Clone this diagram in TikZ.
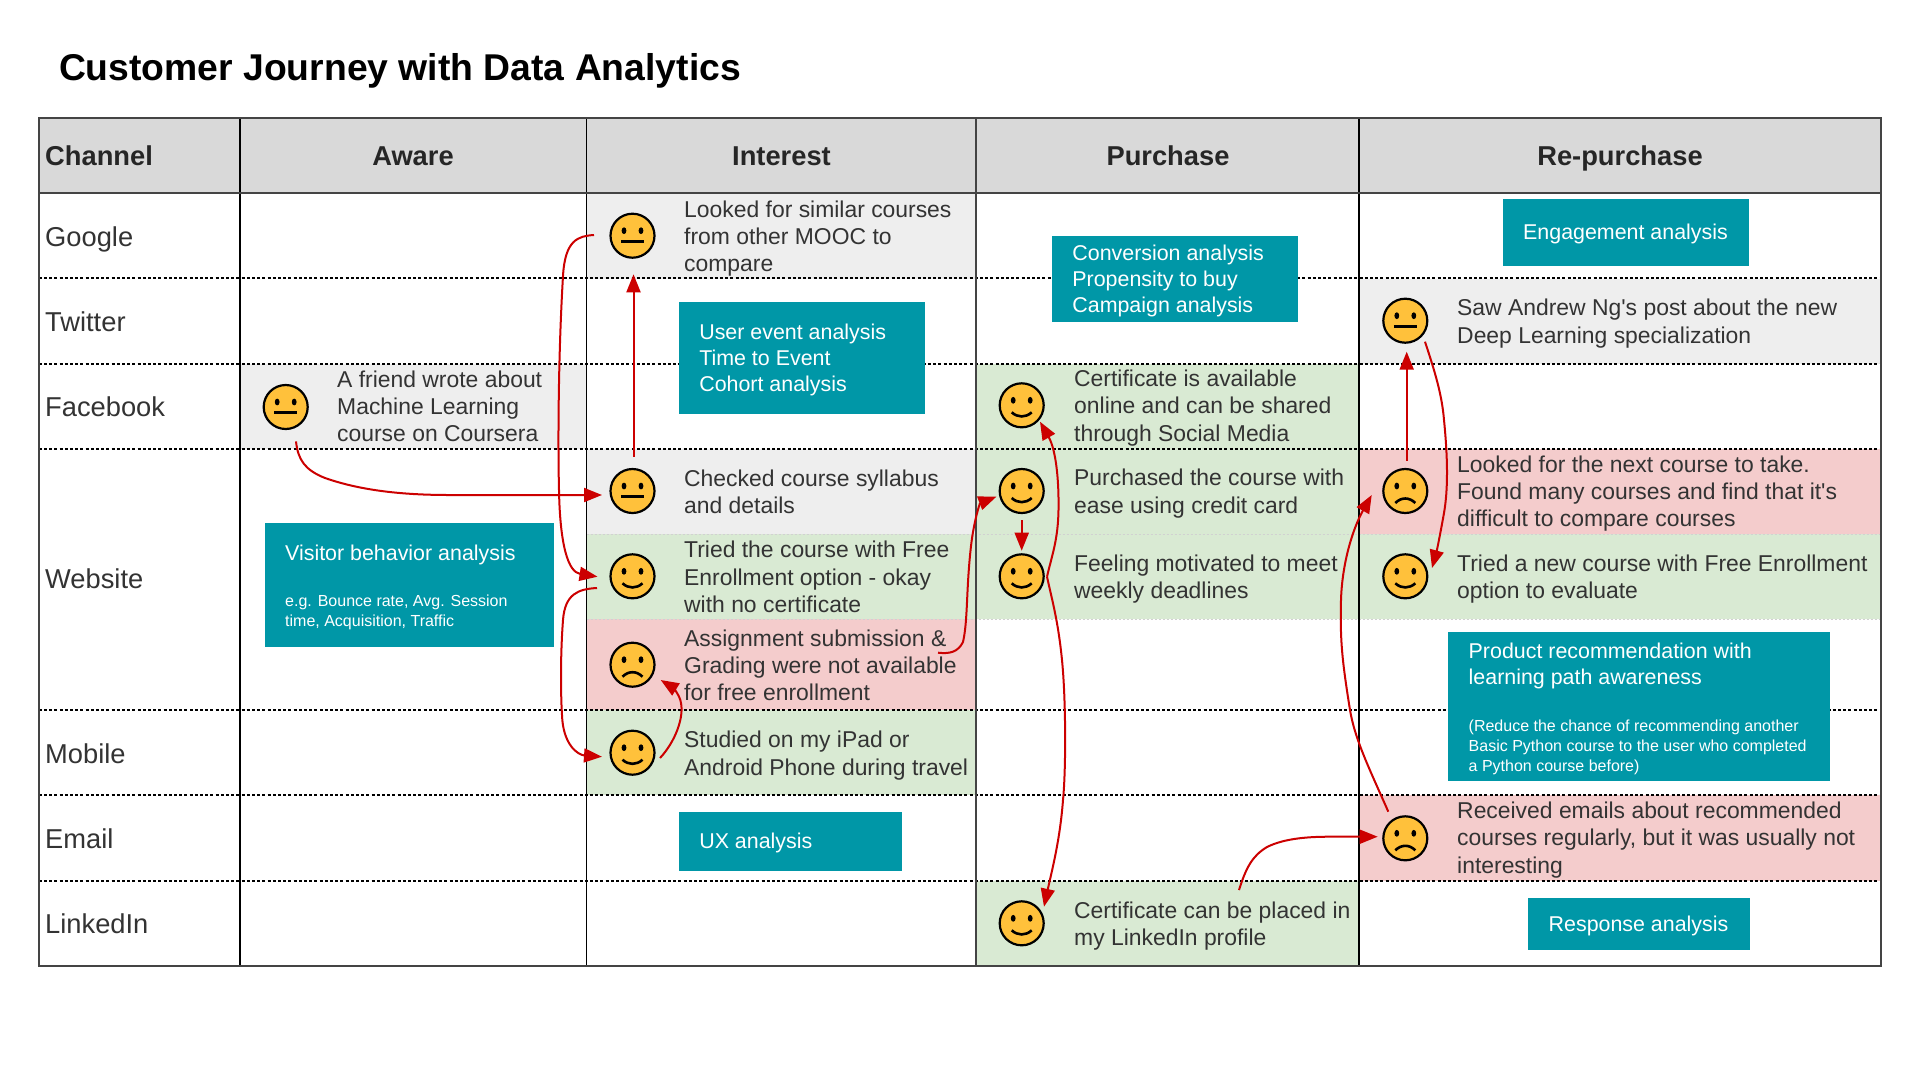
\documentclass[tikz,border=0pt]{standalone}
\usepackage{fontspec}
\setmainfont{Liberation Sans}
\usetikzlibrary{arrows.meta,calc}
\definecolor{tealbg}{HTML}{0097A7}
\definecolor{greycell}{HTML}{EEEEEE}
\definecolor{greencell}{HTML}{D9EAD3}
\definecolor{redcell}{HTML}{F4CCCC}
\definecolor{headcell}{HTML}{D9D9D9}
\definecolor{arrowred}{HTML}{CC0000}
\definecolor{facey}{HTML}{FFC13B}
\definecolor{gridc}{HTML}{444444}
\definecolor{textc}{HTML}{333333}
\tikzset{
  cellfont/.style={font=\fontsize{22.9}{27.3}\selectfont},
  celltext/.style={cellfont,anchor=west,align=left,inner sep=0pt,text=textc},
  rowlabel/.style={font=\fontsize{27.3}{32}\selectfont,anchor=base west,inner sep=0pt,text=textc},
  headlabel/.style={font=\fontsize{27.3}{32}\selectfont\bfseries,anchor=base,inner sep=0pt,text=black!85},
  tealbox/.style={fill=tealbg,text=white,anchor=north west,inner sep=0pt,align=flush left,
    font=\fontsize{21.4}{26}\selectfont,
    execute at begin node={\leftskip=20.5pt\relax\leavevmode\rule{0pt}{20pt}}},
  faceball/.style={circle,draw=black,fill=facey,line width=2.2pt,minimum size=44pt,inner sep=0pt},
  flow/.style={draw=arrowred,line width=2pt,-{Triangle[length=18pt,width=14pt]}},
  rowline/.style={draw=black,line width=2pt,dash pattern=on 3pt off 2.2pt},
  colline/.style={draw=gridc,line width=2.1pt},
  thincol/.style={draw=black,line width=1.7pt},
  faintline/.style={draw=black!18,line width=1pt,dash pattern=on 2pt off 2pt},
}
\newcommand{\facebase}[3]{%
  \node[faceball] (#1) at (#2,#3) {};
  \fill[black] ($(#1)+(-8.5,-5)$) ellipse [x radius=2.4pt,y radius=3.4pt];
  \fill[black] ($(#1)+(8.5,-5)$) ellipse [x radius=2.4pt,y radius=3.4pt];
}
\newcommand{\neutralface}[3]{\facebase{#1}{#2}{#3}
  \draw[black,line width=2.6pt] ($(#1)+(-11.5,5.5)$) -- ($(#1)+(11.5,5.5)$);}
\newcommand{\happyface}[3]{\facebase{#1}{#2}{#3}
  \draw[black,line width=2.6pt] ($(#1)+(-10,7)$) .. controls ($(#1)+(-4,12.5)$) and ($(#1)+(4,12.5)$) .. ($(#1)+(10,7)$);}
\newcommand{\sadface}[3]{\facebase{#1}{#2}{#3}
  \draw[black,line width=2.6pt] ($(#1)+(-10,12)$) .. controls ($(#1)+(-4,6)$) and ($(#1)+(4,6)$) .. ($(#1)+(10,12)$);}
\begin{document}
\begin{tikzpicture}[x=1pt,y=-1pt]
\useasboundingbox (0,0) rectangle (1920,1080);
\fill[white] (0,0) rectangle (1920,1080);
% cells
\fill[headcell] (38.8,118.4) rectangle (1881.4,193.3);
\fill[greycell] (240,364) rectangle (586.5,449);
\fill[greycell] (586.5,193.3) rectangle (976,278.5);
\fill[greycell] (586.5,449) rectangle (976,534);
\fill[greencell] (586.5,534) rectangle (976,619);
\fill[redcell] (586.5,619) rectangle (976,710);
\fill[greencell] (586.5,710) rectangle (976,795.3);
\fill[greencell] (976,364) rectangle (1359,619);
\fill[greencell] (976,880.7) rectangle (1359,965.7);
\fill[greycell] (1359,278.5) rectangle (1881.4,364);
\fill[redcell] (1359,449) rectangle (1881.4,534);
\fill[greencell] (1359,534) rectangle (1881.4,619);
\fill[redcell] (1359,795.3) rectangle (1881.4,880.7);
% grid
\foreach \yy in {534,619} \draw[faintline] (586.5,\yy) -- (1881.4,\yy);
\foreach \yy in {278.4,363.5,448.5,710,795.3,880.7} \draw[rowline] (38.8,\yy) -- (1881.4,\yy);
\foreach \xx in {239.8,586.5,1359} \draw[thincol] (\xx,118.4) -- (\xx,965.7);
\draw[colline] (976,118.4) -- (976,965.7);
\draw[colline] (38.8,193.3) -- (1881.4,193.3);
\draw[colline] (38.8,118.4) rectangle (1881.4,965.7);
% title
\node[font=\fontsize{37.3}{44}\selectfont\bfseries,anchor=base west,inner sep=0pt] (title) at (58.8,80) {Customer Journey with Data Analytics};
% headers
\node[headlabel,anchor=base west] (hchan) at (45,165) {Channel};
\node[headlabel] (haware) at (413,165) {Aware};
\node[headlabel] (hint) at (781.5,165) {Interest};
\node[headlabel] (hpur) at (1168,165) {Purchase};
\node[headlabel] (hrep) at (1620,165) {Re-purchase};
% row labels
\node[rowlabel] (lg) at (45,246) {Google};
\node[rowlabel] (lt) at (45,331) {Twitter};
\node[rowlabel] (lf) at (45,416) {Facebook};
\node[rowlabel] (lw) at (45,588) {Website};
\node[rowlabel] (lm) at (45,763) {Mobile};
\node[rowlabel] (le) at (45,848) {Email};
\node[rowlabel] (ll) at (45,933) {LinkedIn};
% teal boxes
\node[tealbox,minimum height=112pt,text width=246.4pt] (bUser) at (678.6,301.7)
  {User event analysis\\Time to Event\\Cohort analysis};
\node[tealbox,minimum height=85.7pt,text width=246.3pt] (bConv) at (1051.7,236)
  {Conversion analysis\\Propensity to buy\\Campaign analysis};
\node[tealbox,minimum height=67pt,text width=246.1pt] (bEng) at (1502.5,198.3)
  {Engagement analysis};
\node[tealbox,minimum height=59pt,text width=222.8pt] (bUX) at (678.6,811.3)
  {UX analysis};
\node[tealbox,minimum height=52pt,text width=222pt] (bResp) at (1528,898)
  {Response analysis};
\node[tealbox,minimum height=123.5pt,text width=289pt] (bVis) at (264.5,523)
  {{\fontsize{21.4}{26}\selectfont Visitor behavior analysis\par}\vspace{26.5pt}%
   {\fontsize{16}{20}\selectfont e.g. Bounce rate, Avg. Session\\time, Acquisition, Traffic\par}};
\node[tealbox,minimum height=148.7pt,text width=382pt] (bProd) at (1448,632)
  {{\fontsize{21.4}{26}\selectfont Product recommendation with\\learning path awareness\par}\vspace{27pt}%
   {\fontsize{16}{20}\selectfont (Reduce the chance of recommending another\\Basic Python course to the user who completed\\a Python course before)\par}};
% cell texts
\node[celltext] (tFb) at (337,406.5) {A friend wrote about\\Machine Learning\\course on Coursera};
\node[celltext] (tG) at (684,238.5) {Looked for similar courses\\from other MOOC to\\compare};
\node[celltext] (tW1) at (684,492) {Checked course syllabus\\and details};
\node[celltext] (tW2) at (684,577) {Tried the course with Free\\Enrollment option - okay\\with no certificate};
\node[celltext] (tW3) at (684,665.5) {Assignment submission \&\\Grading were not available\\for free enrollment};
\node[celltext] (tM) at (684,755.5) {Studied on my iPad or\\Android Phone during travel};
\node[celltext] (tPF) at (1074,408) {Certificate is available\\online and can be shared\\through Social Media};
\node[celltext] (tP1) at (1074,493.5) {Purchased the course with\\ease using credit card};
\node[celltext] (tP2) at (1074,579) {Feeling motivated to meet\\weekly deadlines};
\node[celltext] (tL) at (1074,926) {Certificate can be placed in\\my LinkedIn profile};
\node[celltext] (tT) at (1457,323.5) {Saw Andrew Ng\textquotesingle s post about the new\\Deep Learning specialization};
\node[celltext] (tR1) at (1457,493.5) {Looked for the next course to take.\\Found many courses and find that it\textquotesingle s\\difficult to compare courses};
\node[celltext] (tR2) at (1457,579) {Tried a new course with Free Enrollment\\option to evaluate};
\node[celltext] (tE) at (1457,840) {Received emails about recommended\\courses regularly, but it was usually not\\interesting};
% faces
\neutralface{fFb}{285.7}{407}
\neutralface{fG}{632.5}{235.7}
\neutralface{fW1}{632.5}{491}
\happyface{fW2}{632.5}{576.3}
\sadface{fW3}{632.5}{664.7}
\happyface{fM}{632.5}{752.7}
\happyface{fPF}{1021.7}{405.3}
\happyface{fP1}{1021.7}{491}
\happyface{fP2}{1021.7}{576.3}
\happyface{fL}{1021.7}{923.3}
\neutralface{fT}{1405.3}{320.7}
\sadface{fR1}{1405.3}{491}
\happyface{fR2}{1405.3}{576.3}
\sadface{fE}{1405.3}{838.3}
% connectors
\draw[flow] ($(fFb)+(10.3,34.4)$) .. controls (298,460) and (305,470) .. (325,478) .. controls (365,492) and (410,495) .. (450,495) -- ($(fW1)+(-30.5,4)$);
\draw[flow] ($(fG)+(-38.5,-0.7)$) .. controls (578,236) and (565,240) .. (563,276) .. controls (558,360) and (558,450) .. (559,490) .. controls (560,545) and (568,572) .. ($(fW2)+(-35,0.4)$);
\draw[flow] ($(fW2)+(-35.5,11.7)$) .. controls (578,589) and (565,594) .. (563,620) .. controls (560,660) and (561,700) .. (562,715) .. controls (563,745) and (578,755) .. ($(fM)+(-30.5,4)$);
\draw[flow] ($(fW1)+(1,-34.3)$) -- ($(fG)+(1,38.6)$);
\draw[flow] ($(fM)+(27.5,5.3)$) .. controls (675,742) and (684,718) .. (681,703) .. controls (680,695) and (672,687) .. ($(fW3)+(28.2,15.3)$);
\draw[flow] ($(fW3)+(305.5,-12)$) .. controls (950,654) and (958,652) .. (963,642) .. controls (968,620) and (966,590) .. (971,546) .. controls (974,520) and (980,503) .. ($(fP1)+(-25.3,5.7)$);
\draw[flow] ($(fP1)+(0,29)$) -- ($(fP2)+(0,-25.6)$);
\draw[flow] ($(fP2)+(25.3,0.4)$) .. controls (1052,555) and (1058,540) .. (1058.5,510) .. controls (1059,480) and (1056,450) .. ($(fPF)+(18.3,16.4)$);
\draw[flow] ($(fP2)+(25.3,0.4)$) .. controls (1052,600) and (1058,620) .. (1062,660) .. controls (1066,700) and (1066,770) .. (1063,800) .. controls (1060,840) and (1052,870) .. ($(fL)+(22.3,-16.6)$);
\draw[flow] ($(fL)+(217.3,-33.3)$) .. controls (1246,868) and (1252,856) .. (1267,847) .. controls (1285,838) and (1310,836.7) .. (1330,836.7) -- ($(fE)+(-27.6,-1.6)$);
\draw[flow] ($(fE)+(-17,-26.6)$) .. controls (1370,770) and (1355,740) .. (1350,710) .. controls (1342,660) and (1340,640) .. (1341,600) .. controls (1342,565) and (1352,530) .. ($(fR1)+(-33.6,4)$);
\draw[flow] ($(fR1)+(1.4,-30.3)$) -- ($(fT)+(1.4,31)$);
\draw[flow] ($(fT)+(19.7,21)$) .. controls (1435,372) and (1442,395) .. (1444,420) .. controls (1448,460) and (1448,490) .. (1444,513) .. controls (1441,530) and (1437,550) .. ($(fR2)+(26.7,-8.3)$);
\end{tikzpicture}
\end{document}
